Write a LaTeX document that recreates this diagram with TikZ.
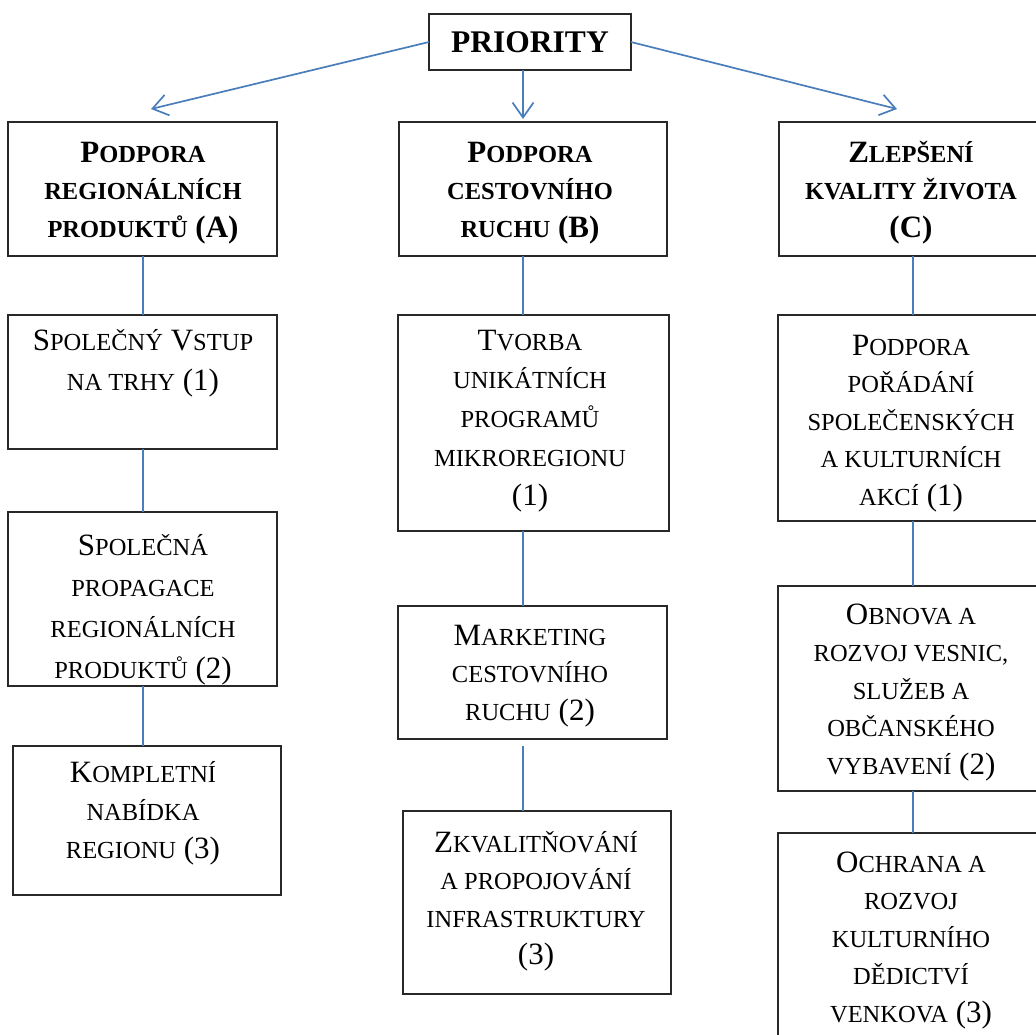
\documentclass[tikz,border=0pt]{standalone}
\usepackage{fontspec}
\setmainfont{Liberation Serif}
\usetikzlibrary{arrows.meta}
\definecolor{connblue}{RGB}{74,126,187}
\definecolor{boxline}{RGB}{40,40,40}
\newcommand\smc[1]{{\fontsize{24.5}{\the\baselineskip}\selectfont #1}}
\newcommand\fl{\rule{0pt}{32pt}}
\tikzset{
  box/.style={draw=boxline, line width=1.3pt, anchor=north west, inner sep=0pt, outer sep=0pt, rectangle},
  txt/.style={anchor=north, inner sep=0pt, align=center, font=\fontsize{31}{37.5}\selectfont},
  conn/.style={draw=connblue, line width=1.8pt},
  arr/.style={draw=connblue, line width=1.7pt, -{Straight Barb[length=15pt,width=21pt,line width=1.7pt]}}
}
\begin{document}
\begin{tikzpicture}[x=1pt,y=-1pt]
\useasboundingbox (0,0) rectangle (1036,1034);
\clip (0,0) rectangle (1036,1034);
% boxes
\node[box, minimum width=202pt, minimum height=56pt] (P) at (429,14) {};
\node[font=\bfseries\fontsize{31.5}{36}\selectfont, inner sep=0pt] (Pt) at (P.center) {PRIORITY};
\node[box, minimum width=269pt, minimum height=134pt] (A) at (8,122) {};
\node[box, minimum width=268pt, minimum height=134pt] (B) at (399,122) {};
\node[box, minimum width=265pt, minimum height=134pt] (C) at (779,122) {};
\node[box, minimum width=269pt, minimum height=134pt] (A1) at (8,315) {};
\node[box, minimum width=269pt, minimum height=174pt] (A2) at (8,512) {};
\node[box, minimum width=268pt, minimum height=149pt] (A3) at (13,746) {};
\node[box, minimum width=271pt, minimum height=216pt] (B1) at (398,315) {};
\node[box, minimum width=269pt, minimum height=133pt] (B2) at (398,606) {};
\node[box, minimum width=268pt, minimum height=183pt] (B3) at (403,811) {};
\node[box, minimum width=266pt, minimum height=206pt] (C1) at (778,315) {};
\node[box, minimum width=266pt, minimum height=205pt] (C2) at (778,586) {};
\node[box, minimum width=266pt, minimum height=227pt] (C3) at (778,833) {};
% texts
\node[txt, font=\bfseries\fontsize{31}{37.5}\selectfont] (At) at (143,130) {\fl P\smc{ODPORA}\\ \smc{REGIONÁLNÍCH}\\ \smc{PRODUKTŮ} (A)};
\node[txt, font=\bfseries\fontsize{31}{37.5}\selectfont] (Bt) at (530,130) {\fl P\smc{ODPORA}\\ \smc{CESTOVNÍHO}\\ \smc{RUCHU} (B)};
\node[txt, font=\bfseries\fontsize{31}{37.5}\selectfont] (Ct) at (911,130) {\fl Z\smc{LEPŠENÍ}\\ \smc{KVALITY ŽIVOTA}\\ (C)};
\node[txt, font=\fontsize{31}{40}\selectfont] (A1t) at (143,318) {\fl S\smc{POLEČNÝ} V\smc{STUP}\\ \smc{NA TRHY} (1)};
\node[txt, font=\fontsize{31}{41}\selectfont] (A2t) at (143,523) {\fl S\smc{POLEČNÁ}\\ \smc{PROPAGACE}\\ \smc{REGIONÁLNÍCH}\\ \smc{PRODUKTŮ} (2)};
\node[txt, font=\fontsize{31}{38}\selectfont] (A3t) at (143,750) {\fl K\smc{OMPLETNÍ}\\ \smc{NABÍDKA}\\ \smc{REGIONU} (3)};
\node[txt, font=\fontsize{31}{38.75}\selectfont] (B1t) at (530,318) {\fl T\smc{VORBA}\\ \smc{UNIKÁTNÍCH}\\ \smc{PROGRAMŮ}\\ \smc{MIKROREGIONU}\\ (1)};
\node[txt] (B2t) at (530,613) {\fl M\smc{ARKETING}\\ \smc{CESTOVNÍHO}\\ \smc{RUCHU} (2)};
\node[txt] (B3t) at (536,820) {\fl Z\smc{KVALITŇOVÁNÍ}\\ \smc{A PROPOJOVÁNÍ}\\ \smc{INFRASTRUKTURY}\\ (3)};
\node[txt] (C1t) at (911,323) {\fl P\smc{ODPORA}\\ \smc{POŘÁDÁNÍ}\\ \smc{SPOLEČENSKÝCH}\\ \smc{A KULTURNÍCH}\\ \smc{AKCÍ} (1)};
\node[txt] (C2t) at (911,592) {\fl O\smc{BNOVA A}\\ \smc{ROZVOJ VESNIC,}\\ \smc{SLUŽEB A}\\ \smc{OBČANSKÉHO}\\ \smc{VYBAVENÍ} (2)};
\node[txt] (C3t) at (911,840) {\fl O\smc{CHRANA A}\\ \smc{ROZVOJ}\\ \smc{KULTURNÍHO}\\ \smc{DĚDICTVÍ}\\ \smc{VENKOVA} (3)};
% arrow tips and connector axes
\coordinate (tA) at (151,109);
\coordinate (tB) at (523,119);
\coordinate (tC) at (897,109);
\coordinate (xA) at (143,0);
\coordinate (xC) at (913,0);
% arrows
\draw[arr] (P.west) -- (tA);
\draw[arr] (P.south -| tB) -- (tB);
\draw[arr] (P.east) -- (tC);
% connectors
\draw[conn] (A.south -| xA) -- (A1.north -| xA);
\draw[conn] (A1.south -| xA) -- (A2.north -| xA);
\draw[conn] (A2.south -| xA) -- (A3.north -| xA);
\draw[conn] (B.south -| tB) -- (B1.north -| tB);
\draw[conn] (B1.south -| tB) -- (B2.north -| tB);
\draw[conn] ([yshift=-7pt]B2.south -| tB) -- (B3.north -| tB);
\draw[conn] (C.south -| xC) -- (C1.north -| xC);
\draw[conn] (C1.south -| xC) -- (C2.north -| xC);
\draw[conn] (C2.south -| xC) -- (C3.north -| xC);
\end{tikzpicture}
\end{document}
